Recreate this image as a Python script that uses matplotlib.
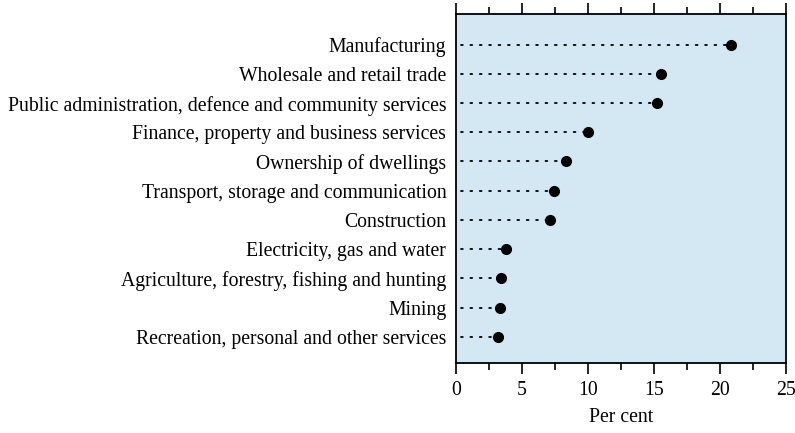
import matplotlib.pyplot as plt

plt.rcParams['font.family'] = ['Liberation Serif', 'DejaVu Serif']

industries = ['Manufacturing',
              'Wholesale and retail trade',
              'Public administration, defence and community services',
              'Finance, property and business services',
              'Ownership of dwellings',
              'Transport, storage and communication',
              'Construction',
              'Electricity, gas and water',
              'Agriculture, forestry, fishing and hunting',
              'Mining',
              'Recreation, personal and other services']
shares = [20.8, 15.5, 15.2, 10.0, 8.3, 7.4, 7.1, 3.8, 3.4, 3.3, 3.2]
xticks = [0, 5, 10, 15, 20, 25]

fig = plt.figure(figsize=(7.95, 4.33), dpi=100)
ax = fig.add_axes([456/795, 1 - 363/433, 330/795, 349/433])
ax.set_facecolor('#d3e8f2')

ypos = list(range(len(industries), 0, -1))
for y, v in zip(ypos, shares):
    ax.plot([0.4, v], [y, y], c='black', lw=1.3, linestyle=(0, (1, 4.2)),
            dash_capstyle='round')
ax.plot(shares, ypos, 'o', c='black', markersize=7)

ax.set_xlim(0, 25)
ax.set_ylim(0.1, 12.05)
ax.set_yticks(ypos)
ax.set_yticklabels(industries, fontsize=14.2)
ax.tick_params(axis='y', length=0, pad=7)
ax.set_xticks(xticks)
ax.set_xticks([2.5, 7.5, 12.5, 17.5, 22.5], minor=True)
ax.tick_params(axis='x', which='major', length=8, width=1.2, top=True,
               labelsize=14.2, pad=5)
ax.tick_params(axis='x', which='minor', length=5, width=1.2, top=True)
for s in ax.spines.values():
    s.set_linewidth(1.3)
ax.set_xlabel('Per cent', fontsize=14.2, labelpad=6)

plt.savefig('out.png', dpi=100)
